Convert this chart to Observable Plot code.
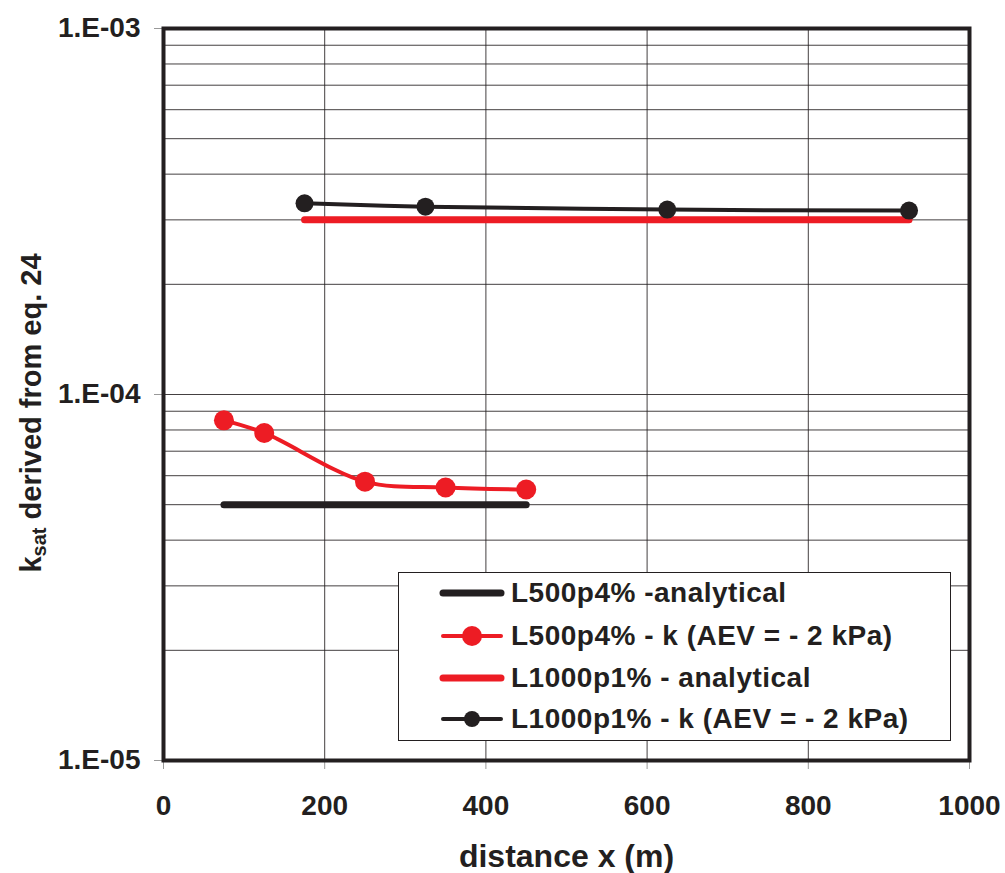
<!DOCTYPE html>
<html>
<head>
<meta charset="utf-8">
<script src="https://cdn.jsdelivr.net/npm/d3@7"></script>
<script src="https://cdn.jsdelivr.net/npm/@observablehq/plot@0.6"></script>
<style>
  body { margin: 0; background: white; }
  #wrap { position: relative; width: 1005px; height: 873px; font-family: "Liberation Sans", Arial, sans-serif; color: #231f20; }
  #ylabel { position: absolute; left: 31px; top: 413px; transform: translate(-50%, -50%) rotate(-90deg); white-space: nowrap; font-size: 29px; font-weight: bold; }
  #ylabel sub { font-size: 20px; vertical-align: -5px; line-height: 0; }
  #legend { position: absolute; left: 398px; top: 572px; width: 553px; height: 169px; border: 1.5px solid #231f20; background: white; box-sizing: border-box; }
  .row { position: absolute; left: 40px; height: 40px; display: flex; align-items: center; font-size: 28px; font-weight: bold; letter-spacing: 0.5px; white-space: nowrap; }
  .row svg { margin-right: 6px; }
</style>
</head>
<body>
<div id="wrap">
  <div id="chart"></div>
  <div id="ylabel">k<sub>sat</sub> derived from eq. 24</div>
  <div id="legend"></div>
</div>
<script>
// ---- data ----
const seriesNames = ["L500p4% -analytical", "L500p4% - k (AEV = - 2 kPa)", "L1000p1% - analytical", "L1000p1% - k (AEV = - 2 kPa)"];
const seriesColors = ["#231f20", "#ed1c24", "#ed1c24", "#231f20"];

const xL500Analytical = [75, 450];
const yL500Analytical = [5.0e-5, 5.0e-5];

const xL500K = [75, 125, 250, 350, 450];
const yL500K = [8.5e-5, 7.85e-5, 5.78e-5, 5.57e-5, 5.5e-5];

const xL1000Analytical = [175, 925];
const yL1000Analytical = [3.0e-4, 3.0e-4];

const xL1000K = [175, 325, 625, 925];
const yL1000K = [3.33e-4, 3.26e-4, 3.2e-4, 3.18e-4];

const xTicks = [0, 200, 400, 600, 800, 1000];
const xGrid = [200, 400, 600, 800];
const yMajorTicks = [1e-5, 1e-4, 1e-3];
const yGridTicks = [2e-5,3e-5,4e-5,5e-5,6e-5,7e-5,8e-5,9e-5,1e-4,2e-4,3e-4,4e-4,5e-4,6e-4,7e-4,8e-4,9e-4];

const toRows = (xs, ys) => xs.map((x, i) => ({x, y: ys[i]}));
const dL500A = toRows(xL500Analytical, yL500Analytical);
const dL500K = toRows(xL500K, yL500K);
const dL1000A = toRows(xL1000Analytical, yL1000Analytical);
const dL1000K = toRows(xL1000K, yL1000K);

const fmtE = d => "1.E-" + String(Math.round(-Math.log10(d))).padStart(2, "0");

const chart = Plot.plot({
  width: 1005,
  height: 873,
  marginLeft: 163,
  marginRight: 36,
  marginTop: 28,
  marginBottom: 113,
  style: { fontFamily: "Liberation Sans, Arial, sans-serif", fontSize: "28px", fontWeight: "bold", color: "#231f20", background: "white", overflow: "visible" },
  x: { domain: [0, 1000] },
  y: { type: "log", domain: [1e-5, 1e-3] },
  marks: [
    Plot.gridY({ ticks: yGridTicks, stroke: "#231f20", strokeOpacity: 0.85, strokeWidth: 1 }),
    Plot.gridX({ ticks: xGrid, stroke: "#231f20", strokeOpacity: 0.85, strokeWidth: 1 }),
    Plot.axisY({ ticks: yMajorTicks, tickFormat: fmtE, tickSize: 9, tickPadding: 14, stroke: "#999", label: null }),
    Plot.axisX({ ticks: xTicks, tickFormat: d => String(d), tickSize: 9, tickPadding: 26, stroke: "#999", label: null }),
    Plot.axisX({ ticks: [], label: "distance x (m)", labelAnchor: "center", labelArrow: "none", labelOffset: 106, fontSize: 32 }),
    Plot.line(dL500A, { x: "x", y: "y", stroke: seriesColors[0], strokeWidth: 7, strokeLinecap: "round" }),
    Plot.line(dL1000A, { x: "x", y: "y", stroke: seriesColors[2], strokeWidth: 7, strokeLinecap: "round" }),
    Plot.line(dL500K, { x: "x", y: "y", stroke: seriesColors[1], strokeWidth: 4, curve: "catmull-rom" }),
    Plot.dot(dL500K, { x: "x", y: "y", r: 10, fill: seriesColors[1] }),
    Plot.line(dL1000K, { x: "x", y: "y", stroke: seriesColors[3], strokeWidth: 4, curve: "catmull-rom" }),
    Plot.dot(dL1000K, { x: "x", y: "y", r: 9, fill: seriesColors[3] }),
    Plot.frame({ stroke: "#231f20", strokeWidth: 4 })
  ]
});
document.getElementById("chart").appendChild(chart);

// ---- legend ----
const legend = document.getElementById("legend");
const legendMarkers = [false, true, false, true];
const legendWidths = [7, 4, 7, 4];
const legendR = [0, 10, 0, 8];
const rowTops = [0, 43, 85, 126];
seriesNames.forEach((name, i) => {
  const row = document.createElement("div");
  row.className = "row";
  row.style.top = rowTops[i] + "px";
  const c = seriesColors[i];
  let sw = `<svg width="66" height="30"><line x1="4" x2="62" y1="15" y2="15" stroke="${c}" stroke-width="${legendWidths[i]}" stroke-linecap="round"/>`;
  if (legendMarkers[i]) sw += `<circle cx="33" cy="15" r="${legendR[i]}" fill="${c}"/>`;
  sw += `</svg>`;
  row.innerHTML = sw + `<span>${name}</span>`;
  legend.appendChild(row);
});
</script>
</body>
</html>
